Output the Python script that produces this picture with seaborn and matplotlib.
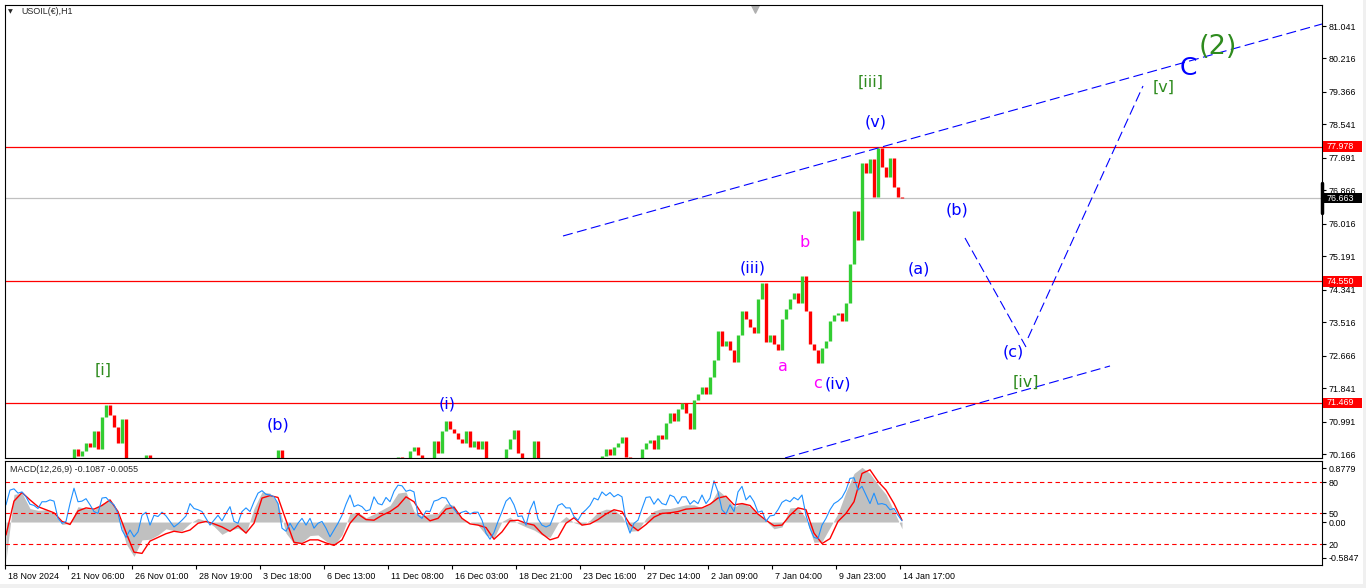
import numpy as np
import matplotlib
matplotlib.use("Agg")
import matplotlib.pyplot as plt
import matplotlib.transforms as mtransforms
from matplotlib.patches import Rectangle
import seaborn as sns

# closing prices, one value per step (~4 hourly bars); anything under 70.06 is off-screen
closes = [
    69.5, 69.6, 69.7, 69.6, 69.8, 69.7, 69.9, 69.8, 69.7, 69.6, 69.8, 69.9, 69.8, 69.9, 69.8, 69.95, 69.9,
    70.30, 70.12, 70.25, 70.45, 70.35, 70.75, 70.30, 71.10, 71.40, 71.15, 70.85, 70.45, 71.05,
    69.90, 69.7, 69.6, 69.8, 69.9, 70.15, 69.9,
    69.8, 69.7, 69.6, 69.5, 69.6, 69.7, 69.6, 69.5, 69.6, 69.7, 69.8, 69.7, 69.8, 69.9, 69.8,
    69.7, 69.8, 69.9, 69.8, 69.7, 69.6, 69.7, 69.8, 69.9, 69.8, 69.9, 69.8, 69.9, 69.8, 69.9,
    70.00, 70.27, 70.02, 69.9,
    69.8, 69.7, 69.8, 69.9, 69.8, 69.7, 69.6, 69.7, 69.8, 69.9, 69.8, 69.9, 69.8, 69.7,
    69.8, 69.9, 69.8, 69.9, 69.8, 69.7, 69.8, 69.9, 69.8, 69.9, 69.8, 69.9, 70.0,
    70.10, 70.05, 69.95, 70.25, 70.35, 70.15, 70.05, 69.9, 69.95,
    70.50, 70.20, 70.75, 71.00, 70.80, 70.70, 70.55, 70.45, 70.75, 70.35, 70.50, 70.30, 70.50,
    69.95, 69.8, 69.9, 69.95, 70.05, 70.30, 70.55, 70.78, 70.20, 69.95, 69.9, 69.95, 70.50, 70.05, 69.9,
    69.8, 69.7, 69.8, 69.9, 69.8, 69.7, 69.8, 69.9, 69.8, 69.9, 69.8, 69.9, 69.95, 70.0,
    70.12, 70.30, 70.15, 70.35, 70.45, 70.60, 70.10, 69.95, 69.9, 70.05, 70.30, 70.45, 70.52,
    70.30, 70.65, 70.55, 70.95,
    71.20, 71.00, 71.30, 71.45, 71.20, 70.80, 71.55, 71.70, 71.86, 71.70, 72.12, 72.55,
    73.30, 72.90, 73.05, 72.80, 72.50, 73.20, 73.80, 73.60, 73.40, 73.25, 74.10, 74.50,
    73.00, 73.20, 72.95, 72.80, 73.60, 73.85, 74.10, 74.25, 74.00, 74.70,
    73.80, 72.95, 72.80, 72.48, 72.85, 73.05, 73.55, 73.70, 73.75, 73.55,
    74.00, 75.00, 76.35, 75.60, 77.55, 77.30, 77.65, 76.70, 77.94, 77.45,
    77.20, 77.70, 76.95, 76.70, 76.663,
]

# MACD main (grey histogram) and signal (red), every second step
macd_hist = [
    -0.62, 0.45, 0.47, 0.22, 0.19, 0.20, 0.13, -0.04, -0.02, 0.25,
    0.22, 0.20, 0.30, 0.36, 0.14, -0.35, -0.56, -0.29, -0.28, -0.21,
    -0.11, -0.14, -0.14, -0.02, 0.06, 0.02, -0.07, -0.20, -0.13, -0.10,
    -0.18, 0.22, 0.49, 0.47, 0.30, -0.18, -0.35, -0.33, -0.22, -0.21,
    -0.31, -0.38, -0.21, 0.14, 0.16, 0.07, 0.13, 0.20, 0.27, 0.47,
    0.49, 0.17, 0.10, 0.13, 0.14, 0.30, 0.27, 0.05, 0.00, -0.05,
    -0.21, -0.26, 0.01, 0.08, -0.02, -0.08, -0.13, -0.21, -0.25, -0.02,
    0.09, -0.01, -0.05, 0.03, 0.16, 0.21, 0.20, 0.09, -0.15, -0.14,
    0.06, 0.18, 0.22, 0.22, 0.25, 0.28, 0.28, 0.23, 0.29, 0.52,
    0.41, 0.24, 0.32, 0.25, 0.13, 0.02, -0.11, -0.08, 0.23, 0.24,
    0.06, -0.33, -0.32, -0.09, 0.14, 0.49, 0.79, 0.89, 0.79, 0.61,
    0.45, 0.18, -0.11,
]
macd_signal = [
    -0.21, 0.34, 0.48, 0.36, 0.25, 0.20, 0.15, 0.01, -0.04, 0.18,
    0.23, 0.21, 0.27, 0.36, 0.17, -0.17, -0.49, -0.51, -0.31, -0.25,
    -0.19, -0.15, -0.17, -0.13, -0.02, 0.01, -0.03, -0.08, -0.15, -0.06,
    -0.18, -0.02, 0.39, 0.43, 0.40, 0.03, -0.33, -0.35, -0.29, -0.29,
    -0.34, -0.38, -0.29, -0.02, 0.13, 0.04, 0.03, 0.11, 0.17, 0.26,
    0.41, 0.33, 0.13, 0.02, 0.06, 0.21, 0.24, 0.06, -0.03, -0.05,
    -0.09, -0.28, -0.16, 0.02, 0.03, -0.02, -0.05, -0.19, -0.29, -0.25,
    -0.02, 0.07, -0.05, -0.03, 0.04, 0.13, 0.20, 0.17, -0.04, -0.14,
    -0.04, 0.08, 0.14, 0.15, 0.17, 0.21, 0.22, 0.23, 0.29, 0.39,
    0.42, 0.28, 0.30, 0.27, 0.13, 0.03, -0.06, -0.05, 0.11, 0.23,
    0.20, -0.18, -0.35, -0.27, 0.01, 0.14, 0.33, 0.79, 0.85, 0.66,
    0.52, 0.30, 0.03,
]
# fast blue oscillator, every step
macd_blue = [
    0.28, 0.52, 0.54, 0.47, 0.49, 0.41, 0.29, 0.27, 0.22, 0.33,
    0.33, 0.36, 0.34, 0.06, -0.02, 0.01, 0.30, 0.55, 0.33, 0.34,
    0.38, 0.28, 0.17, 0.14, 0.39, 0.40, 0.33, 0.28, 0.14, -0.13,
    -0.25, -0.13, -0.24, -0.16, 0.11, 0.16, -0.05, 0.11, 0.09, 0.16,
    0.10, 0.01, -0.08, -0.03, 0.03, 0.10, 0.30, 0.22, 0.20, 0.17,
    0.06, -0.05, 0.03, 0.11, 0.02, 0.14, 0.25, 0.01, -0.02, 0.17,
    0.23, 0.17, 0.33, 0.47, 0.51, 0.45, 0.44, 0.41, 0.30, -0.10,
    -0.15, -0.02, -0.13, -0.02, 0.06, -0.05, 0.06, -0.10, -0.02, 0.01,
    -0.10, -0.24, -0.13, -0.02, 0.11, 0.29, 0.44, 0.25, 0.28, 0.25,
    0.18, 0.20, 0.41, 0.30, 0.28, 0.40, 0.33, 0.50, 0.60, 0.59,
    0.50, 0.52, 0.49, 0.11, 0.06, 0.18, 0.17, 0.34, 0.36, 0.40,
    0.39, 0.28, 0.21, 0.13, 0.16, 0.18, 0.13, 0.16, 0.16, 0.03,
    -0.18, -0.28, -0.17, 0.01, 0.17, 0.34, 0.40, 0.28, 0.09, 0.10,
    -0.05, 0.20, 0.34, 0.05, -0.05, -0.08, -0.05, 0.11, 0.27, 0.30,
    0.23, 0.23, 0.09, 0.03, 0.14, 0.20, 0.27, 0.39, 0.36, 0.49,
    0.43, 0.48, 0.41, 0.45, 0.41, 0.01, -0.18, -0.02, 0.03, 0.22,
    0.40, 0.41, 0.29, 0.38, 0.30, 0.28, 0.44, 0.41, 0.30, 0.41,
    0.41, 0.29, 0.35, 0.30, 0.44, 0.30, 0.39, 0.67, 0.49, 0.20,
    0.13, 0.28, 0.17, 0.49, 0.58, 0.36, 0.43, 0.33, 0.16, 0.18,
    0.01, 0.10, 0.11, 0.20, 0.32, 0.36, 0.33, 0.40, 0.36, 0.44,
    0.11, -0.10, -0.25, -0.27, -0.05, 0.06, 0.20, 0.30, 0.34, 0.40,
    0.52, 0.71, 0.72, 0.52, 0.58, 0.44, 0.30, 0.47, 0.29, 0.30,
    0.28, 0.20, 0.22, 0.11, 0.02,
]

level_prices = [77.978, 74.550, 71.469]
last_price = 76.663
price_ticks = [81.041, 80.216, 79.366, 78.541, 77.691, 76.866, 76.016,
               75.191, 74.341, 73.516, 72.666, 71.841, 70.991, 70.166]
macd_levels = [0.646, 0.141, -0.363]
macd_ticks = [0.8779, 0.646, 0.141, 0.0, -0.363, -0.5847]
macd_tick_labels = ["0.8779", "80", "50", "0.00", "20", "-0.5847"]

date_labels = ["18 Nov 2024", "21 Nov 06:00", "26 Nov 01:00", "28 Nov 19:00", "3 Dec 18:00",
               "6 Dec 13:00", "11 Dec 08:00", "16 Dec 03:00", "18 Dec 21:00", "23 Dec 16:00",
               "27 Dec 14:00", "2 Jan 09:00", "7 Jan 04:00", "9 Jan 23:00", "14 Jan 17:00"]
date_steps = [-0.25, 15.5, 31.5, 47.5, 63.5, 79.5, 95.5, 111.5, 127.5, 143.5,
              159.5, 175.5, 191.5, 207.5, 223.5]

# trend lines: (x0, x1), (y0, y1)
upper_channel = ([139.25, 329], [75.706, 81.092])
lower_channel = ([194.75, 276], [70.066, 72.403])
proj_down = ([239.75, 255], [75.655, 72.886])
proj_up = ([255.5, 284.25], [73.114, 79.517])

GREEN = "#2e8b1e"
BLUE = "#0000ff"
MAG = "#ff00ff"
wave_labels = [
    ("[i]", 24.25, 72.30, GREEN, 11.5),
    ("(b)", 68, 70.90, BLUE, 11.5),
    ("(i)", 110.25, 71.44, BLUE, 11.5),
    ("(iii)", 186.75, 74.89, BLUE, 11.5),
    ("b", 199.75, 75.53, MAG, 11.5),
    ("a", 194.25, 72.40, MAG, 11.5),
    ("c", 202.75, 71.97, MAG, 11.5),
    ("(iv)", 208, 71.95, BLUE, 11.5),
    ("[iii]", 216.25, 79.62, GREEN, 11.5),
    ("(v)", 217.5, 78.60, BLUE, 11.5),
    ("(a)", 228.25, 74.87, BLUE, 11.5),
    ("(b)", 237.75, 76.37, BLUE, 11.5),
    ("(c)", 251.75, 72.76, BLUE, 11.5),
    ("[iv]", 255, 71.99, GREEN, 11.5),
    ("[v]", 289.5, 79.49, GREEN, 11.5),
    ("C", 295.5, 79.97, BLUE, 18),
    ("(2)", 303, 80.51, GREEN, 19.5),
]

sns.set_style("white")
plt.rcParams["font.family"] = ["Liberation Sans", "DejaVu Sans"]

W, H = 1366, 588
fig = plt.figure(figsize=(W / 100, H / 100), dpi=100)
ax = fig.add_axes([5 / W, 1 - 458 / H, 1317 / W, 453 / H])
am = fig.add_axes([5 / W, 1 - 565 / H, 1317 / W, 104 / H], sharex=ax)

# candles: body from previous close to close, thin enough to leave a hairline gap
c = np.array(closes)
o = np.r_[c[0], c[:-1]]
idx = np.arange(len(c))
colors = np.where(c >= o, "#32cd32", "#ff0000")
ax.vlines(idx, np.minimum(o, c), np.maximum(o, c), colors=colors, lw=2.4)

for p in level_prices:
    ax.axhline(p, color="#ff0000", lw=0.9, zorder=1)
ax.axhline(last_price, color="#c0c0c0", lw=0.9, zorder=1)

for xs, ys in [upper_channel, lower_channel, proj_down, proj_up]:
    sns.lineplot(x=xs, y=ys, ax=ax, color=BLUE, lw=0.8, linestyle=(0, (9, 4)))

for txt, x, y, col, fs in wave_labels:
    ax.text(x, y, txt, color=col, fontsize=fs, family="DejaVu Sans", ha="center", va="center")

ax.set_xlim(-0.25, 329)
ax.set_ylim(70.065, 81.575)
ax.yaxis.tick_right()
ax.set_yticks(price_ticks)
ax.set_yticklabels([f"{v:.3f}" for v in price_ticks])
ax.tick_params(axis="y", right=True, length=3, width=0.8, pad=2, labelsize=6.4, colors="black")
ax.tick_params(axis="x", bottom=False, labelbottom=False)

trans = mtransforms.blended_transform_factory(ax.transAxes, ax.transData)
for p, bg in [(77.978, "#ff0000"), (74.550, "#ff0000"), (71.469, "#ff0000"), (last_price, "#000000")]:
    ax.add_patch(Rectangle((1.0008, p - 0.13), 0.0296, 0.26, transform=trans,
                           fc=bg, ec="none", clip_on=False, zorder=5))
    ax.text(1.0035, p, f"{p:.3f}", transform=trans, color="white", fontsize=6.4,
            va="center", ha="left", zorder=6, clip_on=False)
ax.plot([1.0, 1.0], [76.30, 77.05], transform=trans, color="black", lw=2.5, clip_on=False)
ax.scatter([0.5695], [0.992], transform=ax.transAxes, marker="v", s=28, color="#b0b0b0", clip_on=False)

# MACD panel
idx2 = np.arange(0, len(closes), 2)[: len(macd_hist)]
am.fill_between(idx2, 0, macd_hist, color="#c0c0c0", lw=0)
sns.lineplot(x=idx2, y=macd_signal, ax=am, color="#ff0000", lw=1.0)
sns.lineplot(x=idx, y=macd_blue, ax=am, color="#1e90ff", lw=0.8)
for v in macd_levels:
    am.axhline(v, color="#ff0000", lw=0.8, linestyle=(0, (4, 3)))

am.set_ylim(-0.699, 0.993)
am.yaxis.tick_right()
am.set_yticks(macd_ticks)
am.set_yticklabels(macd_tick_labels)
am.tick_params(axis="y", right=True, length=3, width=0.8, pad=2, labelsize=6.4, colors="black")
am.set_xticks(date_steps)
am.set_xticklabels(date_labels)
am.tick_params(axis="x", bottom=True, length=3, width=0.8, pad=2, labelsize=6.4, colors="black")
shift = mtransforms.ScaledTranslation(0.03, 0, fig.dpi_scale_trans)
for lab in am.get_xticklabels():
    lab.set_horizontalalignment("left")
    lab.set_transform(lab.get_transform() + shift)

for a in (ax, am):
    a.set_xlabel("")
    a.set_ylabel("")
    for s in a.spines.values():
        s.set_color("black")
        s.set_linewidth(0.8)

fig.text(10.5 / W, 1 - 12 / H, "\u25bc", fontsize=4.5, va="center", ha="center", family="DejaVu Sans")
fig.text(21 / W, 1 - 12 / H, "USOIL(\u20ac),H1", fontsize=6.4, va="center")
fig.text(10 / W, 1 - 470 / H, "MACD(12,26,9) -0.1087 -0.0055", fontsize=6.4, va="center")
fig.patches.append(Rectangle((0, 0), 1, 4 / H, transform=fig.transFigure, fc="#f0f0f0", ec="none"))
fig.patches.append(Rectangle((1363 / W, 0), 3 / W, 1, transform=fig.transFigure, fc="#f0f0f0", ec="none"))

fig.savefig("out.png", dpi=100)
